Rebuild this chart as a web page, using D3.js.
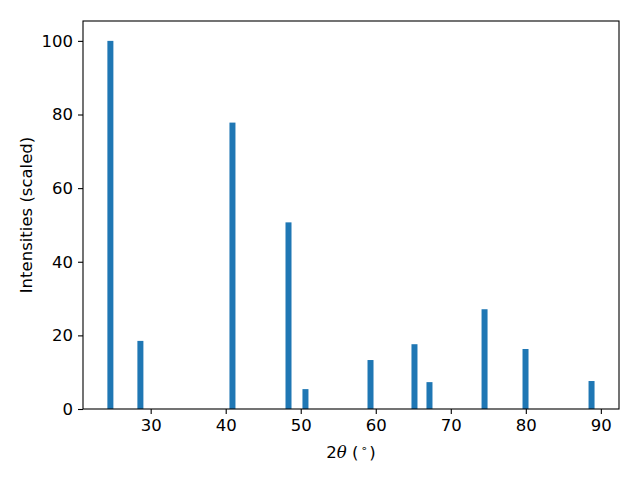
<!DOCTYPE html>
<html>
<head>
<meta charset="utf-8">
<script src="https://cdn.jsdelivr.net/npm/d3@7/dist/d3.min.js"></script>
<style>
body { margin: 0; background: #fff; }
svg { display: block; }
text { font-family: "DejaVu Sans", sans-serif; }
</style>
</head>
<body>
<svg id="chart" width="640" height="480"></svg>
<script>
const twoTheta = [24.63, 28.63, 40.9, 48.37, 50.63, 59.3, 65.16, 67.16, 74.5, 79.96, 88.76];
const intensity = [100, 18.5, 77.8, 50.7, 5.4, 13.3, 17.6, 7.3, 27.1, 16.3, 7.6];
const xTicks = [30, 40, 50, 60, 70, 80, 90];
const yTicks = [0, 20, 40, 60, 80, 100];
const barWidth = 0.8;

const svg = d3.select("#chart");
const L = 83, R = 619, T = 21, B = 409;
const FS = 16.5;

const x = d3.scaleLinear().domain([20.98, 92.42]).range([L, R]);
const y = d3.scaleLinear().domain([0, 105.4]).range([B, T]);

svg.append("g").selectAll("rect").data(twoTheta).join("rect")
  .attr("x", (d) => x(d - barWidth / 2))
  .attr("width", (d) => x(d + barWidth / 2) - x(d - barWidth / 2))
  .attr("y", (d, i) => y(intensity[i]))
  .attr("height", (d, i) => y(0) - y(intensity[i]))
  .attr("fill", "#1f77b4");

const xAxis = svg.append("g").attr("transform", `translate(0,${B})`)
  .call(d3.axisBottom(x).tickValues(xTicks).tickSize(5).tickPadding(5).tickFormat(d3.format("d")));
const yAxis = svg.append("g").attr("transform", `translate(${L},0)`)
  .call(d3.axisLeft(y).tickValues(yTicks).tickSize(5).tickPadding(5).tickFormat(d3.format("d")));

[xAxis, yAxis].forEach(g => {
  g.select(".domain").remove();
  g.selectAll("text").attr("font-size", FS).attr("font-family", "DejaVu Sans").attr("fill", "#000");
  g.selectAll("line").attr("stroke", "#000").attr("stroke-width", 1.1);
});
xAxis.selectAll("text").attr("dy", "0.71em");

svg.append("rect").attr("x", L).attr("y", T).attr("width", R - L).attr("height", B - T)
  .attr("fill", "none").attr("stroke", "#000").attr("stroke-width", 1.1);

const xl = svg.append("text").attr("x", (L + R) / 2).attr("y", 458)
  .attr("text-anchor", "middle").attr("font-size", FS);
xl.append("tspan").text("2");
xl.append("tspan").attr("font-family", "DejaVu Serif").attr("font-style", "italic").text("θ");
xl.append("tspan").text(" (");
xl.append("tspan").attr("font-size", 11).attr("dx", 2).attr("dy", -6).text("∘");
xl.append("tspan").attr("dx", 2).attr("dy", 6).text(")");

svg.append("text").attr("transform", `translate(32,${(T + B) / 2}) rotate(-90)`)
  .attr("text-anchor", "middle").attr("font-size", FS).text("Intensities (scaled)");
</script>
</body>
</html>
